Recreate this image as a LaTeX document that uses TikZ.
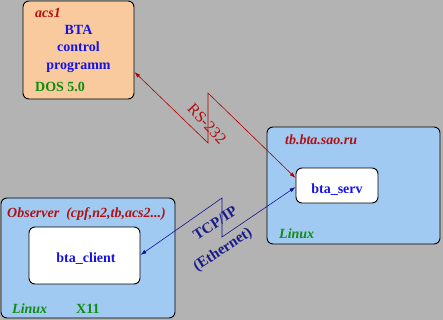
\documentclass[tikz,border=0pt]{standalone}
\usepackage{fontspec}
\setmainfont{Liberation Serif}
\usetikzlibrary{arrows.meta,calc}
\definecolor{bg}{RGB}{179,179,179}
\definecolor{peach}{RGB}{248,202,158}
\definecolor{lblue}{RGB}{160,202,242}
\definecolor{tred}{RGB}{178,16,16}
\definecolor{tblue}{RGB}{20,20,230}
\definecolor{tnavy}{RGB}{26,26,140}
\definecolor{tgreen}{RGB}{16,140,16}
\definecolor{lred}{RGB}{180,0,0}
\definecolor{lnavy}{RGB}{20,20,150}
\begin{document}
\begin{tikzpicture}[x=1pt,y=-1pt,
  box/.style={draw=black,line width=0.9pt,rounded corners=6pt,inner sep=0pt},
  lbl/.style={inner sep=0pt,font=\fontsize{14}{16}\selectfont\bfseries},
  redit/.style={lbl,text=tred,font=\fontsize{14}{16}\selectfont\bfseries\itshape},
  greenit/.style={lbl,text=tgreen,font=\fontsize{14}{16}\selectfont\bfseries\itshape},
  bluet/.style={lbl,text=tblue},
  conn/.style={line width=0.6pt,{Latex[length=6pt,width=4pt]}-{Latex[length=6pt,width=4pt]}}
]
\fill[bg] (0,0) rectangle (443,320);
\useasboundingbox (0,0) rectangle (443,320);
% boxes
\node[box,fill=peach,minimum width=111pt,minimum height=98pt] (acs) at (78.5,50) {};
\node[box,fill=lblue,minimum width=173pt,minimum height=117pt] (tb) at (353.5,185.5) {};
\node[box,fill=white,minimum width=82pt,minimum height=35pt] (serv) at (337,185.5) {};
\node[box,fill=lblue,minimum width=174pt,minimum height=120pt] (obs) at (88,258) {};
\node[box,fill=white,minimum width=111pt,minimum height=57pt] (client) at (84.5,255.5) {};
% labels acs1
\node[redit,anchor=base west] (acsname) at (35,18) {acs1};
\node[bluet,anchor=base] (bta) at (78.5,35) {BTA};
\node[bluet,anchor=base] (control) at (78.5,52) {control};
\node[bluet,anchor=base] (prog) at (78.5,70) {programm};
\node[lbl,text=tgreen,anchor=base west] (dos) at (35,92) {DOS 5.0};
% labels tb
\node[redit,anchor=base west] (tbname) at (285,145) {tb.bta.sao.ru};
\node[greenit,anchor=base west] (linux1) at (279,238) {Linux};
\node[bluet,anchor=base] (servt) at (337,193) {bta\_serv};
% labels observer
\node[redit,anchor=base west] (obsname) at (7,217) {Observer\ \ (cpf,n2,tb,acs2...)};
\node[bluet,anchor=base] (clientt) at (86,262) {bta\_client};
\node[greenit,anchor=base west] (linux2) at (12,313) {Linux};
\node[lbl,text=tgreen,anchor=base west] (x11) at (76,313) {X11};
% RS-232 connector
\coordinate (r1) at (208,143);
\coordinate (r2) at (208,93);
\draw[conn,draw=lred] ($(acs.east)+(0,22)$) -- (r1) -- (r2) -- ($(serv.west)+(0,-7.5)$);
\node[inner sep=0pt,text=tred,font=\fontsize{16}{18}\selectfont,rotate=-47] (rs) at (207,124) {RS-232};
% TCP/IP connector
\coordinate (t1) at (222,237);
\coordinate (t2) at (222,198);
\draw[conn,draw=lnavy] ($(serv.west)+(0,1.5)$) -- (t1) -- (t2) -- ($(client.east)+(0,-0.5)$);
\node[inner sep=0pt,text=tnavy,font=\fontsize{15}{17}\selectfont\bfseries,rotate=33] (tcp) at (215,223) {TCP/IP};
\node[inner sep=0pt,text=tnavy,font=\fontsize{15}{17}\selectfont\bfseries,rotate=33] (eth) at (223,250) {(Ethernet)};
\end{tikzpicture}
\end{document}
